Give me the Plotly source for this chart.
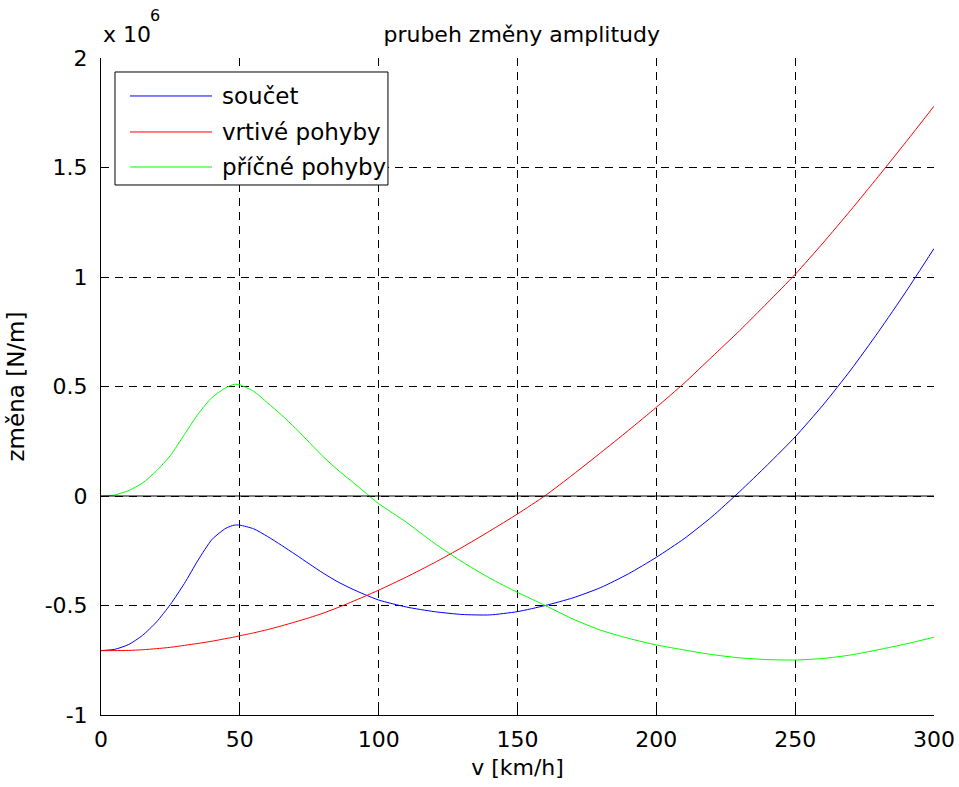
import plotly.graph_objects as go

# ---- data (values in units of 1e6 N/m) ----
v_kmh = [0, 5, 10, 15, 20, 25, 30, 35, 40, 45, 48, 50, 55, 60, 65, 70, 75, 80, 85, 90, 95,
         100, 110, 120, 130, 140, 150, 160, 170, 180, 190, 200, 210, 220, 230, 240, 250,
         260, 270, 280, 290, 300]

soucet = [-0.706, -0.700, -0.678, -0.636, -0.575, -0.495, -0.400, -0.292, -0.198, -0.147,
          -0.133, -0.133, -0.150, -0.185, -0.225, -0.267, -0.310, -0.352, -0.390, -0.422,
          -0.450, -0.475, -0.507, -0.528, -0.541, -0.543, -0.528, -0.500, -0.465, -0.418,
          -0.355, -0.280, -0.195, -0.095, 0.020, 0.142, 0.270, 0.415, 0.575, 0.750, 0.935,
          1.130]

vrtive = [-0.706, -0.706, -0.705, -0.702, -0.697, -0.691, -0.682, -0.673, -0.663, -0.651,
          -0.644, -0.638, -0.625, -0.610, -0.593, -0.575, -0.556, -0.535, -0.511, -0.485,
          -0.458, -0.430, -0.370, -0.305, -0.235, -0.160, -0.082, 0.002, 0.098, 0.198,
          0.300, 0.405, 0.515, 0.635, 0.755, 0.882, 1.012, 1.155, 1.305, 1.460, 1.618,
          1.780]

pricne = [0.000, 0.005, 0.025, 0.060, 0.115, 0.185, 0.280, 0.375, 0.450, 0.495, 0.510,
          0.508, 0.478, 0.425, 0.370, 0.310, 0.245, 0.180, 0.122, 0.070, 0.017, -0.035,
          -0.120, -0.215, -0.300, -0.375, -0.440, -0.500, -0.562, -0.613, -0.650, -0.680,
          -0.703, -0.724, -0.739, -0.747, -0.749, -0.742, -0.726, -0.702, -0.675, -0.645]

series_names = ["součet", "vrtivé pohyby", "příčné pohyby"]
series_colors = ["#0000ff", "#ff0000", "#00ff00"]
series_values = [soucet, vrtive, pricne]

x_ticks = [0, 50, 100, 150, 200, 250, 300]
y_ticks = [-1, -0.5, 0, 0.5, 1, 1.5, 2]
y_tick_labels = ["-1", "-0.5", "0", "0.5", "1", "1.5", "2"]

FONT = "DejaVu Sans, Verdana, sans-serif"

fig = go.Figure()
for name, col, vals in zip(series_names, series_colors, series_values):
    fig.add_trace(go.Scatter(x=v_kmh, y=vals, mode="lines", name=name,
                             line=dict(color=col, width=1, shape="spline", smoothing=0.6),
                             showlegend=False))

# zero reference line (black)
fig.add_trace(go.Scatter(x=[x_ticks[0], x_ticks[-1]], y=[0, 0], mode="lines",
                         line=dict(color="black", width=1), showlegend=False,
                         hoverinfo="skip"))

fig.update_layout(
    width=959, height=787,
    margin=dict(l=101, r=25, t=58, b=72),
    paper_bgcolor="white", plot_bgcolor="white",
    font=dict(family=FONT, size=22, color="black"),
    title=dict(text="prubeh změny amplitudy", x=0.544, xanchor="center",
               y=0.956, yanchor="middle", yref="container", xref="container",
               font=dict(size=22, family=FONT, color="black")),
)

fig.update_xaxes(
    range=[0, 300], tickvals=x_ticks, ticks="inside", ticklen=6, tickcolor="black",
    showline=True, linecolor="black", linewidth=1, automargin=False,
    showgrid=True, gridcolor="black", gridwidth=1, griddash="8px,6px",
    zeroline=False, tickfont=dict(size=22), ticklabelstandoff=5,
    title=dict(text="v [km/h]", font=dict(size=22), standoff=8),
)
fig.update_yaxes(
    range=[-1, 2], tickvals=y_ticks, ticktext=y_tick_labels, ticks="inside", ticklen=6,
    tickcolor="black", showline=True, linecolor="black", linewidth=1, automargin=False,
    showgrid=True, gridcolor="black", gridwidth=1, griddash="8px,6px",
    zeroline=False, tickfont=dict(size=22), ticklabelstandoff=8,
    title=dict(text="změna [N/m]", font=dict(size=23), standoff=13),
)

# exponent label "x 10^6"
fig.add_annotation(text="x 10", xref="paper", yref="paper", x=0.0, y=1.0,
                   xanchor="left", yanchor="bottom", showarrow=False,
                   font=dict(size=22, family=FONT, color="black"), yshift=9)
fig.add_annotation(text="6", xref="paper", yref="paper", x=0.0564, y=1.0,
                   xanchor="left", yanchor="bottom", showarrow=False,
                   font=dict(size=16, family=FONT, color="black"), yshift=31)

# legend box (MATLAB style)
leg_x0, leg_x1, leg_y0, leg_y1 = 0.0168, 0.3445, 0.8067, 0.9787
fig.add_shape(type="rect", xref="paper", yref="paper", x0=leg_x0, x1=leg_x1,
              y0=leg_y0, y1=leg_y1, line=dict(color="black", width=1),
              fillcolor="white", layer="above")
row_y = [0.9422, 0.8874, 0.8341]
for name, col, yy in zip(series_names, series_colors, row_y):
    fig.add_shape(type="line", xref="paper", yref="paper", x0=0.0348, x1=0.1333,
                  y0=yy, y1=yy, line=dict(color=col, width=1), layer="above")
    fig.add_annotation(text=name, xref="paper", yref="paper", x=0.1429, y=yy,
                       xanchor="left", yanchor="middle", showarrow=False,
                       font=dict(size=23, family=FONT, color="black"))

fig.write_html("out.html")
